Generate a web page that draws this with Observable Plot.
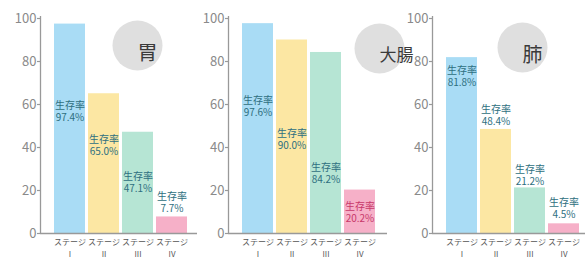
<!DOCTYPE html>
<html>
<head>
<meta charset="utf-8">
<script src="https://cdn.jsdelivr.net/npm/d3@7"></script>
<script src="https://cdn.jsdelivr.net/npm/@observablehq/plot@0.6"></script>
<style>
  html, body { margin: 0; padding: 0; background: #fff; }
  #wrap { position: relative; width: 585px; height: 257px; overflow: hidden; font-family: "Noto Sans CJK JP", "Noto Sans", sans-serif; }
  #wrap svg { position: absolute; top: 0; overflow: visible; }
  g[aria-label="stage-word"] text { letter-spacing: -1.6px; }
</style>
</head>
<body>
<div id="wrap"></div>
<script>
// ---- data ----
const stages = ["I", "II", "III", "IV"];
const organs = ["胃", "大腸", "肺"];
const stomachRates = [97.4, 65.0, 47.1, 7.7];
const colonRates   = [97.6, 90.0, 84.2, 20.2];
const lungRates    = [81.8, 48.4, 21.2, 4.5];
// where each "生存率" annotation sits (in y-axis units)
const stomachLabelAt = [57, 41, 24, 14.5];
const colonLabelAt   = [59, 44, 28, 10];
const lungLabelAt    = [73, 55, 27, 12];
const yTicks = [0, 20, 40, 60, 80, 100];
const stageWord = "ステージ";
const rateWord = "生存率";

// ---- styles ----
const barColors = ["#a9dcf5", "#fce7a3", "#b6e5d4", "#f6b0c8"];
const labelColors = ["#2e6f80", "#2e6f80", "#2e6f80", "#2e6f80"];
const panels = [
  {organ: organs[0], rates: stomachRates, labelAt: stomachLabelAt, left: 0,   width: 200, mr: 3, badge: [97, 27],  badgeSize: 20, labelColors},
  {organ: organs[1], rates: colonRates,   labelAt: colonLabelAt,   left: 188, width: 202, mr: 3, badge: [151, 30], badgeSize: 17, labelColors: ["#2e6f80", "#2e6f80", "#2e6f80", "#c8386a"]},
  {organ: organs[2], rates: lungRates,    labelAt: lungLabelAt,    left: 392, width: 193, mr: 0, badge: [90, 29],  badgeSize: 20, labelColors}
];

const wrap = document.getElementById("wrap");
for (const p of panels) {
  const rows = stages.map((s, i) => ({stage: s, value: p.rates[i], labelY: p.labelAt[i], i}));
  const chart = Plot.plot({
    width: p.width,
    height: 257,
    marginLeft: 40,
    marginRight: p.mr,
    marginTop: 18,
    marginBottom: 24,
    style: {fontFamily: '"Noto Sans CJK JP", "Noto Sans", sans-serif', background: "transparent", overflow: "visible"},
    x: {domain: stages, range: [52, 188], paddingInner: 0.1, paddingOuter: 0, axis: null, label: null},
    y: {domain: [0, 100], axis: null, label: null},
    marks: [
      Plot.dot([p.organ], {frameAnchor: "top-left", dx: p.badge[0], dy: p.badge[1], r: 25, fill: "#dfdfdf"}),
      Plot.text([p.organ], {frameAnchor: "top-left", dx: p.badge[0], dy: p.badge[1], text: d => d, fontSize: p.badgeSize, fill: "#3a3a3a"}),
      Plot.barY(rows, {x: "stage", y: "value", fill: d => barColors[d.i]}),
      Plot.text(rows, {
        x: "stage", y: "labelY",
        text: d => `${rateWord}\n${d.value.toFixed(1)}%`,
        lineHeight: 1.2, fontSize: 10, fill: d => p.labelColors[d.i]
      }),
      Plot.ruleY([0], {stroke: "#999", strokeWidth: 1.3}),
      Plot.axisY({ticks: yTicks, tickSize: 3, tickPadding: 1, fontSize: 13, fill: "#8a8a8a", stroke: "#999", strokeWidth: 1.2, label: null}),
      Plot.text(stages, {ariaLabel: "stage-word", x: d => d, frameAnchor: "bottom", dy: 11, text: () => stageWord, fontSize: 8, fill: "#555"}),
      Plot.text(stages, {ariaLabel: "stage-num", x: d => d, frameAnchor: "bottom", dy: 23, text: d => d, fontSize: 8, fill: "#555"})
    ]
  });
  // vertical axis line, positioned through the plot's own y scale
  const y = chart.scale("y");
  const ns = "http://www.w3.org/2000/svg";
  const line = document.createElementNS(ns, "line");
  line.setAttribute("x1", 40.5);
  line.setAttribute("x2", 40.5);
  line.setAttribute("y1", y.apply(0));
  line.setAttribute("y2", y.apply(100) - 2);
  line.setAttribute("stroke", "#999");
  line.setAttribute("stroke-width", 1.3);
  chart.appendChild(line);
  chart.style.left = p.left + "px";
  wrap.appendChild(chart);
}
</script>
</body>
</html>
